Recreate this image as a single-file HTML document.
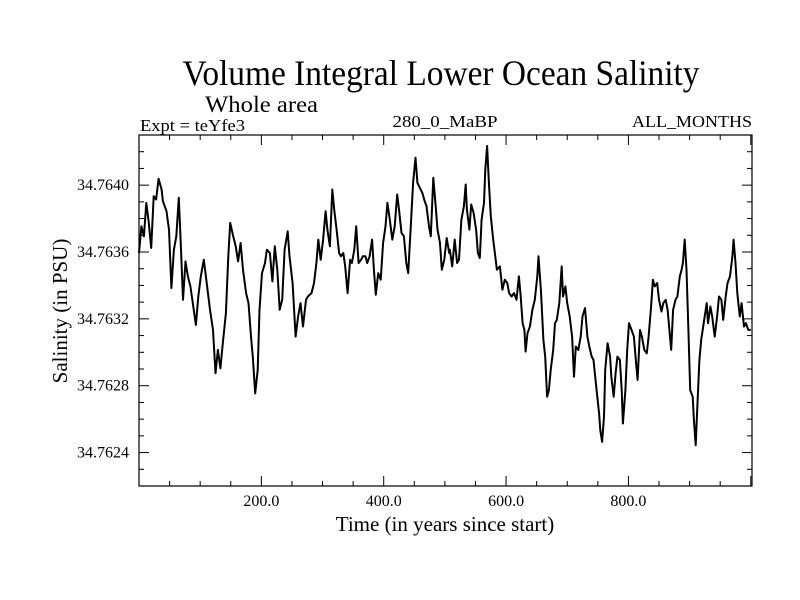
<!DOCTYPE html>
<html><head><meta charset="utf-8"><style>
body{margin:0;background:#fff;}
svg{display:block;font-family:"Liberation Serif",serif;}
</style></head><body>
<svg id="chart" width="800" height="600" viewBox="0 0 800 600">
<rect x="0" y="0" width="800" height="600" fill="#fff"/>
<text x="441" y="85" font-size="36" text-anchor="middle" textLength="517" lengthAdjust="spacingAndGlyphs">Volume Integral Lower Ocean Salinity</text>
<text x="205" y="112" font-size="23" textLength="113" lengthAdjust="spacingAndGlyphs">Whole area</text>
<text x="140" y="131" font-size="17" textLength="105" lengthAdjust="spacingAndGlyphs">Expt = teYfe3</text>
<text x="445" y="127" font-size="17" text-anchor="middle" textLength="105" lengthAdjust="spacingAndGlyphs">280_0_MaBP</text>
<text x="752" y="127" font-size="17" text-anchor="end" textLength="120" lengthAdjust="spacingAndGlyphs">ALL_MONTHS</text>
<text x="445" y="531" font-size="21" text-anchor="middle">Time (in years since start)</text>
<text transform="translate(67,311) rotate(-90)" font-size="21" text-anchor="middle">Salinity (in PSU)</text>
<g id="ticks"></g>
<g id="plot"></g>
<rect x="139" y="135" width="613" height="351" fill="none" stroke="#000" stroke-width="1.2"/>
</svg>
<script>
const years=[0,4,8,12,16,20,24,28,32,37,39,45,49,53,57,61,65,68,72,76,80,84,88,93,97,101,106,110,116,121,125,129,133,137,142,146,149,154,158,162,166,170,175,179,183,186,190,194,197,201,206,209,214,218,222,226,230,234,238,243,246,251,256,260,264,268,273,276,282,286,290,293,297,301,305,308,312,316,319,323,327,330,334,337,341,345,348,352,355,359,363,366,370,373,377,381,384,387,391,395,399,403,406,410,414,418,422,425,429,433,437,440,444,448,452,455,459,463,467,470,474,477,481,485,488,492,495,499,503,507,508,512,516,520,523,527,531,534,536,540,543,547,551,554,557,560,564,566,569,572,575,579,583,585,590,594,598,602,605,609,613,617,621,624,627,630,632,635,639,643,647,651,653,657,661,664,667,670,673,677,680,683,687,691,693,697,700,704,708,711,714,718,722,725,729,733,736,740,743,748,752,754,757,760,762,766,770,772,776,779,782,786,789,791,795,798,801,805,809,812,815,819,822,826,830,833,837,840,843,847,850,854,857,861,864,868,870,873,877,880,884,887,889,892,895,898,901,905,907,910,912,916,919,923,928,930,934,937,941,945,948,952,955,959,962,966,970,972,975,978,982,985,989,992,996,1000];
const salinity=[34.763594,34.763754,34.763694,34.763894,34.763774,34.763624,34.763934,34.763914,34.764038,34.763974,34.763904,34.763844,34.763734,34.763384,34.763614,34.763694,34.763924,34.763674,34.763314,34.763544,34.763454,34.763394,34.763294,34.763164,34.763334,34.763454,34.763554,34.763434,34.763254,34.763134,34.762874,34.763014,34.762904,34.763054,34.763234,34.763574,34.763774,34.763694,34.763634,34.763544,34.763654,34.763494,34.763354,34.763294,34.763094,34.762974,34.762754,34.762894,34.763254,34.763474,34.763534,34.763614,34.763594,34.763424,34.763634,34.763494,34.763254,34.763314,34.763614,34.763724,34.763574,34.763414,34.763094,34.763214,34.763294,34.763154,34.763314,34.763334,34.763354,34.763414,34.763534,34.763674,34.763554,34.763674,34.763844,34.763734,34.763634,34.763974,34.763854,34.763734,34.763594,34.763574,34.763594,34.763514,34.763354,34.763554,34.763534,34.763614,34.763754,34.763534,34.763554,34.763574,34.763574,34.763534,34.763574,34.763674,34.763494,34.763344,34.763474,34.763434,34.763654,34.763754,34.763894,34.763794,34.763674,34.763754,34.763944,34.763854,34.763714,34.763694,34.763534,34.763474,34.763734,34.764014,34.764164,34.764014,34.763984,34.763954,34.763904,34.763874,34.763754,34.763694,34.764044,34.763874,34.763734,34.763654,34.763494,34.763554,34.763684,34.763594,34.763614,34.763514,34.763674,34.763534,34.763554,34.763794,34.763874,34.764004,34.763854,34.763734,34.763884,34.763834,34.763734,34.763594,34.763564,34.763794,34.763894,34.764094,34.764234,34.764014,34.763814,34.763674,34.763554,34.763494,34.763514,34.763374,34.763434,34.763414,34.763354,34.763334,34.763354,34.763314,34.763454,34.763334,34.763174,34.763134,34.763004,34.763114,34.763154,34.763254,34.763314,34.763454,34.763574,34.763374,34.763074,34.762974,34.762734,34.762774,34.762894,34.763014,34.763174,34.763194,34.763294,34.763514,34.763334,34.763394,34.763294,34.763214,34.763094,34.762854,34.763034,34.763014,34.763094,34.763214,34.763264,34.763094,34.763034,34.762974,34.762954,34.762774,34.762634,34.762534,34.762464,34.762614,34.762894,34.763054,34.762974,34.762854,34.762734,34.762874,34.762974,34.762954,34.762774,34.762574,34.762774,34.763014,34.763174,34.763134,34.763094,34.762954,34.762834,34.763134,34.763094,34.763014,34.762994,34.763094,34.763274,34.763434,34.763394,34.763414,34.763314,34.763244,34.763294,34.763314,34.763254,34.763094,34.763014,34.763254,34.763314,34.763334,34.763454,34.763494,34.763534,34.763674,34.763494,34.763134,34.762774,34.762734,34.762594,34.762444,34.762614,34.762954,34.763074,34.763174,34.763294,34.763174,34.763274,34.763214,34.763094,34.763214,34.763334,34.763314,34.763194,34.763334,34.763414,34.763454,34.763574,34.763674,34.763534,34.763354,34.763214,34.763294,34.763154,34.763174,34.763134,34.763134];
const xTickValues=[200,400,600,800];
const xTickLabels=["200.0","400.0","600.0","800.0"];
const yTickValues=[34.7624,34.7628,34.7632,34.7636,34.7640];
const yTickLabels=["34.7624","34.7628","34.7632","34.7636","34.7640"];
const X0=139,X1=752,Y0=486,Y1=135,XMIN=0,XMAX=1002,YMIN=34.76220,YMAX=34.76430;
const NS="http://www.w3.org/2000/svg";
function xs(v){return X0+(v-XMIN)/(XMAX-XMIN)*(X1-X0);}
function ys(v){return Y0-(v-YMIN)/(YMAX-YMIN)*(Y0-Y1);}
const tg=document.getElementById('ticks');
const pg=document.getElementById('plot');
function line(g,x1,y1,x2,y2,name){
  const l=document.createElementNS(NS,'line');
  l.setAttribute('x1',x1);l.setAttribute('y1',y1);l.setAttribute('x2',x2);l.setAttribute('y2',y2);
  l.setAttribute('stroke','#000');l.setAttribute('stroke-width','1');
  
  
  g.appendChild(l);
}
for(let t=50;t<XMAX;t+=50){
  const x=xs(t);const major=(t%200===0);const len=major?10:5;
  line(tg,x,Y0,x,Y0-len,'x-tick');
  line(tg,x,Y1,x,Y1+len,'x-tick-top');
}
for(let k=0;;k++){
  const v=34.7623+k*0.0001; if(v>YMAX) break;
  const y=ys(v); const major=Math.abs(((v-34.7624)/0.0004)-Math.round((v-34.7624)/0.0004))<1e-3; const len=major?10:5;
  line(tg,X0,y,X0+len,y,'y-tick');
  line(tg,X1,y,X1-len,y,'y-tick-right');
}
xTickValues.forEach((v,i)=>{
  const t=document.createElementNS(NS,'text');
  t.setAttribute('x',xs(v));t.setAttribute('y',506);t.setAttribute('font-size','16');t.setAttribute('text-anchor','middle');
  t.textContent=xTickLabels[i];
  
  
  tg.appendChild(t);
});
yTickValues.forEach((v,i)=>{
  const t=document.createElementNS(NS,'text');
  t.setAttribute('x',129);t.setAttribute('y',ys(v)+5);t.setAttribute('font-size','16');t.setAttribute('text-anchor','end');
  t.textContent=yTickLabels[i];
  
  
  tg.appendChild(t);
});
const p=document.createElementNS(NS,'path');
p.setAttribute('d',years.map((yr,i)=>(i?'L':'M')+xs(yr).toFixed(1)+' '+ys(salinity[i]).toFixed(1)).join(' '));
p.setAttribute('fill','none');p.setAttribute('stroke','#000');p.setAttribute('stroke-width','2');p.setAttribute('stroke-linejoin','round');


pg.appendChild(p);
</script>
</body></html>
